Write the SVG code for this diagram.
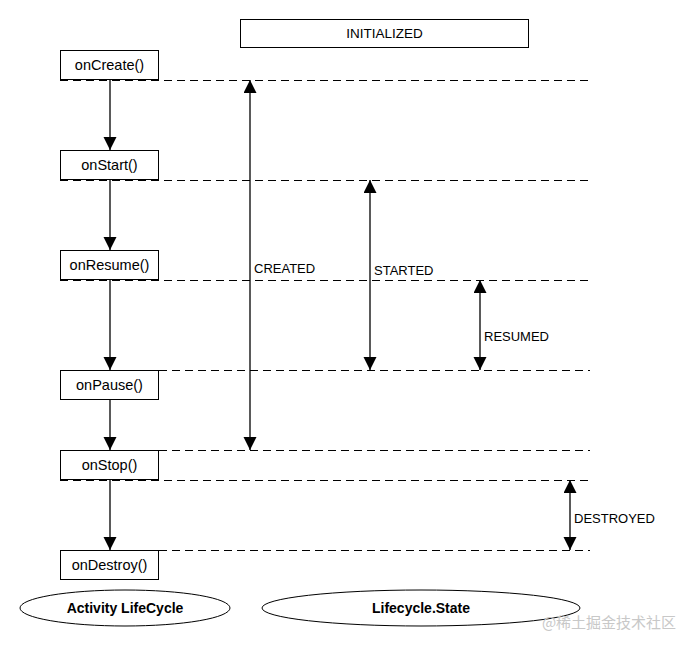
<svg xmlns="http://www.w3.org/2000/svg" width="690" height="650" viewBox="0 0 690 650">
<style>
.box{fill:#fff;stroke:#000;stroke-width:1}
.t{font-family:"Liberation Sans",Arial,sans-serif;font-size:14.5px;fill:#000;text-anchor:middle}
.lbl{font-family:"Liberation Sans",Arial,sans-serif;font-size:13px;fill:#000}
.dash{stroke:#000;stroke-width:1;stroke-dasharray:8 5;fill:none}
.arr{stroke:#000;stroke-width:1.3;fill:none}
.ell{fill:#fff;stroke:#000;stroke-width:1}
.bt{font-family:"Liberation Sans",Arial,sans-serif;font-size:14px;font-weight:bold;fill:#000;text-anchor:middle}
</style>
<defs>
<marker id="ah" markerUnits="userSpaceOnUse" markerWidth="14" markerHeight="14" refX="13" refY="6.5" orient="auto-start-reverse">
<path d="M0,0 L13,6.5 L0,13 Z" fill="#000"/>
</marker>
</defs>
<rect width="690" height="650" fill="#fff"/>
<g id="connectors">
<line class="dash" x1="60" y1="80.500" x2="590" y2="80.500"/>
<line class="dash" x1="60" y1="180.500" x2="590" y2="180.500"/>
<line class="dash" x1="60" y1="280.500" x2="590" y2="280.500"/>
<line class="dash" x1="159" y1="370.500" x2="590" y2="370.500"/>
<line class="dash" x1="159" y1="450.500" x2="590" y2="450.500"/>
<line class="dash" x1="60" y1="480.500" x2="590" y2="480.500"/>
<line class="dash" x1="159" y1="550.500" x2="590" y2="550.500"/>
<line class="arr" x1="110" y1="80" x2="110" y2="150" marker-end="url(#ah)"/>
<line class="arr" x1="110" y1="180" x2="110" y2="250" marker-end="url(#ah)"/>
<line class="arr" x1="110" y1="280" x2="110" y2="370" marker-end="url(#ah)"/>
<line class="arr" x1="110" y1="400" x2="110" y2="450" marker-end="url(#ah)"/>
<line class="arr" x1="110" y1="480" x2="110" y2="550" marker-end="url(#ah)"/>
<line class="arr" x1="250" y1="80" x2="250" y2="450" marker-start="url(#ah)" marker-end="url(#ah)"/>
<line class="arr" x1="370" y1="180" x2="370" y2="370" marker-start="url(#ah)" marker-end="url(#ah)"/>
<line class="arr" x1="480" y1="280" x2="480" y2="370" marker-start="url(#ah)" marker-end="url(#ah)"/>
<line class="arr" x1="570" y1="480" x2="570" y2="550" marker-start="url(#ah)" marker-end="url(#ah)"/>
</g>
<g id="initialized"><rect class="box" x="240.500" y="19.500" width="288" height="28"/><text class="t" x="384.5" y="38" style="font-size:13.5px">INITIALIZED</text></g>
<g id="onCreate"><rect class="box" x="60.500" y="50.500" width="98" height="29"/><text class="t" x="109.5" y="70">onCreate()</text></g>
<g id="onStart"><rect class="box" x="60.500" y="150.500" width="98" height="29"/><text class="t" x="109.5" y="170">onStart()</text></g>
<g id="onResume"><rect class="box" x="60.500" y="250.500" width="98" height="29"/><text class="t" x="109.5" y="270">onResume()</text></g>
<g id="onPause"><rect class="box" x="60.500" y="370.500" width="98" height="29"/><text class="t" x="109.5" y="390">onPause()</text></g>
<g id="onStop"><rect class="box" x="60.500" y="450.500" width="98" height="29"/><text class="t" x="109.5" y="470">onStop()</text></g>
<g id="onDestroy"><rect class="box" x="60.500" y="550.500" width="98" height="29"/><text class="t" x="109.5" y="570">onDestroy()</text></g>
<g id="created"><text class="lbl" x="254" y="273">CREATED</text></g>
<g id="started"><text class="lbl" x="374" y="275">STARTED</text></g>
<g id="resumed"><text class="lbl" x="484" y="341">RESUMED</text></g>
<g id="destroyed"><text class="lbl" x="574" y="523">DESTROYED</text></g>
<g id="activityLifecycle"><ellipse class="ell" cx="125" cy="608" rx="105" ry="18"/><text class="bt" x="125" y="613">Activity LifeCycle</text></g>
<g id="lifecycleState"><ellipse class="ell" cx="421" cy="608" rx="159" ry="18"/><text class="bt" x="421" y="613">Lifecycle.State</text></g>
<text x="609" y="628" style="font-family:'Noto Sans CJK SC',sans-serif;font-size:15px;fill:#c8c8c8;text-anchor:middle">@稀土掘金技术社区</text>
</svg>
